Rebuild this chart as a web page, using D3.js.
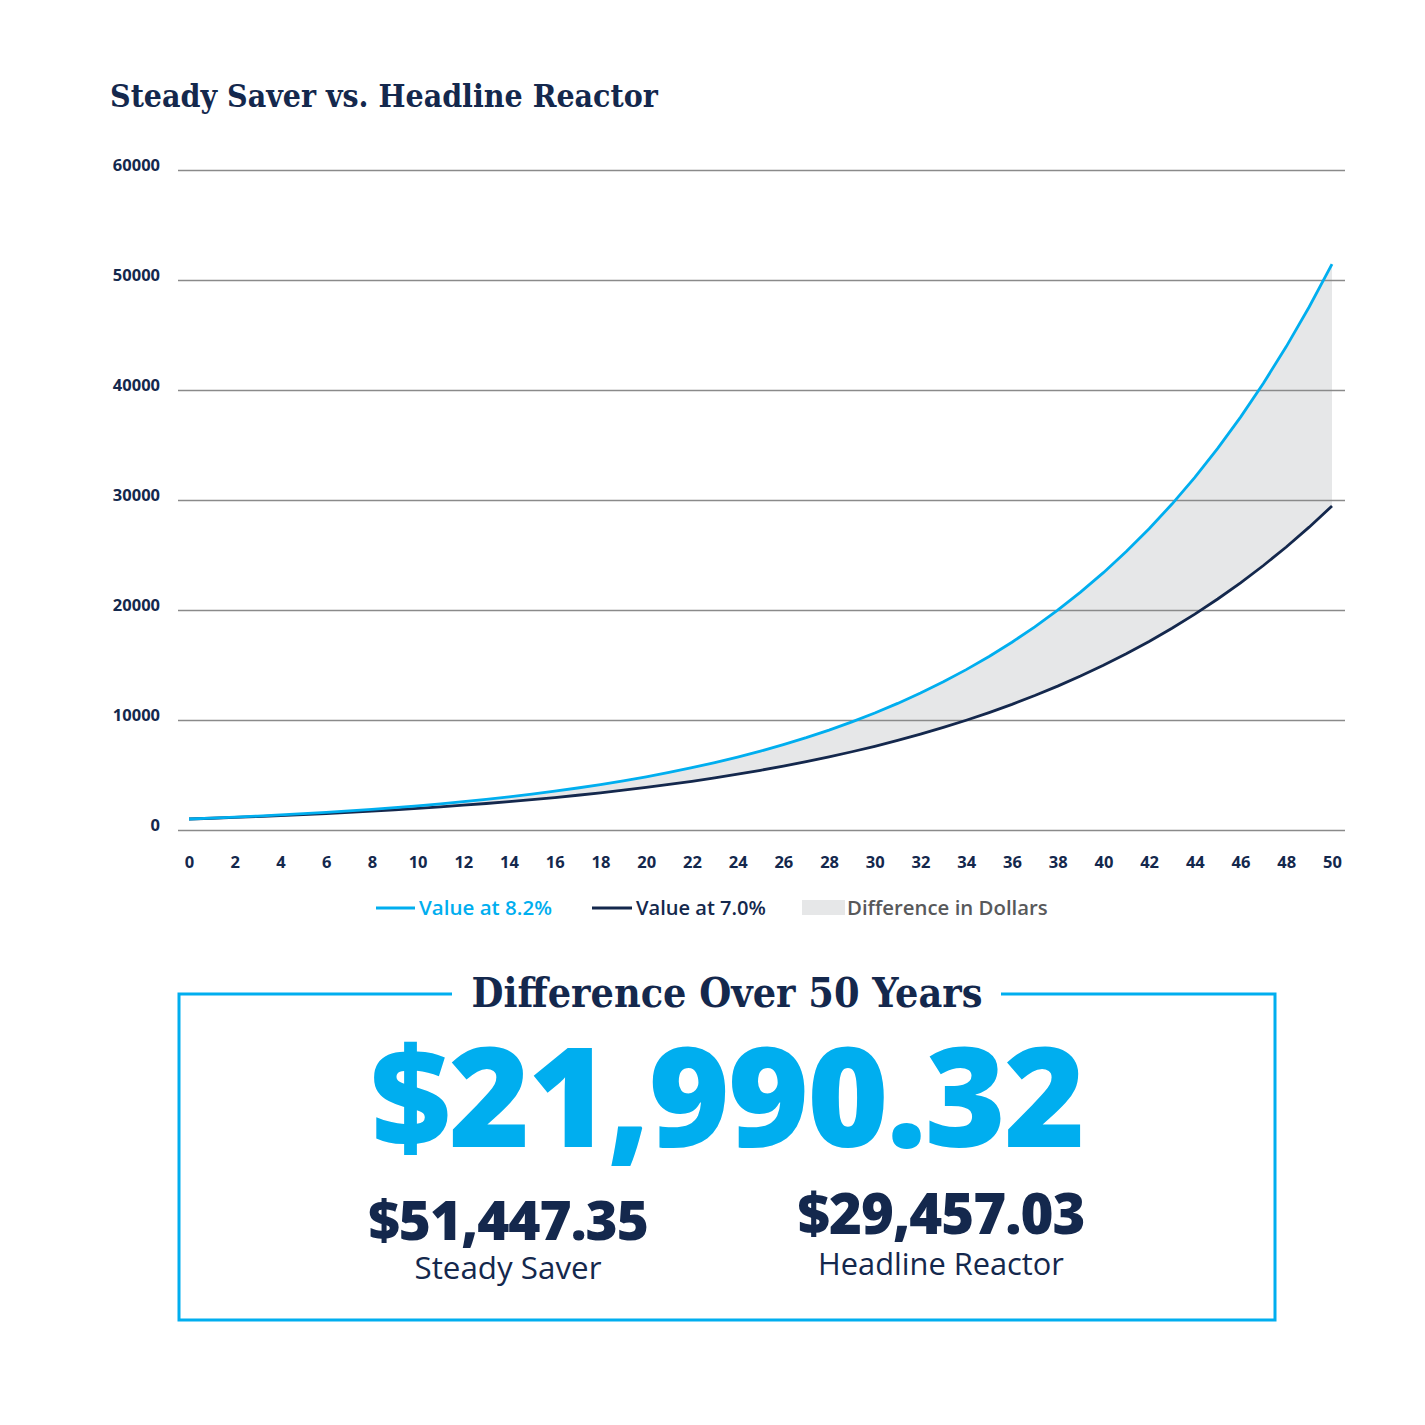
<!DOCTYPE html>
<html>
<head>
<meta charset="utf-8">
<script src="https://cdn.jsdelivr.net/npm/d3@7"></script>
<style>
  html, body { margin: 0; padding: 0; background: #ffffff; }
  svg { display: block; }
</style>
</head>
<body>
<svg id="chart" width="1425" height="1425"></svg>
<script>
// ---- Data ----
const years = d3.range(0, 51);
const value82 = [1000, 1082, 1170.72, 1266.72, 1370.59, 1482.98, 1604.58, 1736.16, 1878.52, 2032.56,
  2199.23, 2379.57, 2574.69, 2785.81, 3014.25, 3261.42, 3528.85, 3818.22, 4131.31, 4470.08,
  4836.62, 5233.22, 5662.35, 6126.66, 6629.05, 7172.63, 7760.79, 8397.17, 9085.74, 9830.77,
  10636.89, 11509.12, 12452.87, 13473.99, 14578.86, 15774.33, 17067.82, 18467.38, 19981.70, 21620.20,
  23393.06, 25311.29, 27386.81, 29632.53, 32062.40, 34691.52, 37536.22, 40614.19, 43944.55, 47547.99,
  51447.35];
const value70 = [1000, 1070, 1144.90, 1225.04, 1310.80, 1402.55, 1500.73, 1605.78, 1718.19, 1838.46,
  1967.15, 2104.85, 2252.19, 2409.85, 2578.53, 2759.03, 2952.16, 3158.82, 3379.93, 3616.53,
  3869.68, 4140.56, 4430.40, 4740.53, 5072.37, 5427.43, 5807.35, 6213.87, 6648.84, 7114.26,
  7612.26, 8145.11, 8715.27, 9325.34, 9978.11, 10676.58, 11423.94, 12223.62, 13079.27, 13994.82,
  14974.46, 16022.67, 17144.26, 18344.35, 19628.45, 21002.45, 22472.62, 24045.71, 25728.91, 27529.93,
  29457.03];
const yTicks = [0, 10000, 20000, 30000, 40000, 50000, 60000];
const xTicks = d3.range(0, 51, 2);
const legendItems = ["Value at 8.2%", "Value at 7.0%", "Difference in Dollars"];
const chartTitle = "Steady Saver vs. Headline Reactor";
const boxTitle = "Difference Over 50 Years";
const diffLabel = "$21,990.32";
const finalLabels = ["$51,447.35", "$29,457.03"];
const finalNames = ["Steady Saver", "Headline Reactor"];

// ---- Style ----
const NAVY = "#14284d";
const CYAN = "#00aeef";
const FILL = "#e6e7e8";
const GRID = "#8a8a8a";
const SANS = "'Open Sans', 'Inter', sans-serif";
const SLAB = "'DejaVu Serif', serif";
const SLAB_COND = "'DejaVu Serif Condensed', 'DejaVu Serif', serif";

const svg = d3.select("#chart");

function fitWidth(sel, target) {
  const node = sel.node();
  const fs = parseFloat(sel.attr("font-size"));
  const w = node.getComputedTextLength();
  if (w > 0) sel.attr("font-size", (fs * target / w).toFixed(2));
  return sel;
}

// Title
fitWidth(svg.append("text")
  .attr("x", 110).attr("y", 107)
  .attr("font-family", SLAB_COND).attr("font-weight", 700)
  .attr("font-size", 30).attr("fill", NAVY)
  .text(chartTitle), 548);

// Scales
const x = d3.scaleLinear().domain([0, 50]).range([189, 1332]);
const y = d3.scaleLinear().domain([0, 60000]).range([830, 170]);

// Area between lines
const area = d3.area()
  .x(d => x(d))
  .y0(d => y(value70[d]))
  .y1(d => y(value82[d]));
svg.append("path").datum(years).attr("d", area).attr("fill", FILL);

// Gridlines + y labels
const yAxis = d3.axisLeft(y).tickValues(yTicks).tickSize(0).tickPadding(0)
  .tickFormat(d3.format("d"));
const gy = svg.append("g").attr("transform", "translate(160,0)").call(yAxis);
gy.select(".domain").remove();
gy.selectAll("text")
  .attr("font-family", SANS).attr("font-weight", 700).attr("font-size", 16.5)
  .attr("fill", NAVY).attr("dy", 0)
  .attr("y", 0).attr("x", 0).attr("text-anchor", "end");
gy.selectAll(".tick").append("line")
  .attr("x1", 178 - 160).attr("x2", 1345 - 160)
  .attr("stroke", GRID).attr("stroke-width", 1.6);

// Lines
const line70 = d3.line().x(d => x(d)).y(d => y(value70[d]));
const line82 = d3.line().x(d => x(d)).y(d => y(value82[d]));
svg.append("path").datum(years).attr("d", line70)
  .attr("fill", "none").attr("stroke", NAVY).attr("stroke-width", 2.8);
svg.append("path").datum(years).attr("d", line82)
  .attr("fill", "none").attr("stroke", CYAN).attr("stroke-width", 2.8);

// X axis labels
const xAxis = d3.axisBottom(x).tickValues(xTicks).tickSize(0).tickPadding(0);
const gx = svg.append("g").attr("transform", "translate(0,868)").call(xAxis);
gx.select(".domain").remove();
gx.selectAll("text")
  .attr("font-family", SANS).attr("font-weight", 700).attr("font-size", 16.5)
  .attr("fill", NAVY).attr("y", 0).attr("dy", 0);

// Legend
const lg = svg.append("g");
lg.append("line").attr("x1", 376).attr("x2", 415).attr("y1", 908).attr("y2", 908)
  .attr("stroke", CYAN).attr("stroke-width", 2.8);
fitWidth(lg.append("text").attr("x", 419).attr("y", 915)
  .attr("font-family", SANS).attr("font-weight", 600).attr("font-size", 19)
  .attr("fill", CYAN).text(legendItems[0]), 133);
lg.append("line").attr("x1", 592).attr("x2", 632).attr("y1", 908).attr("y2", 908)
  .attr("stroke", NAVY).attr("stroke-width", 2.8);
fitWidth(lg.append("text").attr("x", 636).attr("y", 915)
  .attr("font-family", SANS).attr("font-weight", 600).attr("font-size", 19)
  .attr("fill", NAVY).text(legendItems[1]), 130);
lg.append("rect").attr("x", 802).attr("y", 900).attr("width", 43).attr("height", 15)
  .attr("fill", FILL);
fitWidth(lg.append("text").attr("x", 847).attr("y", 915)
  .attr("font-family", SANS).attr("font-weight", 600).attr("font-size", 19)
  .attr("fill", "#58595b").text(legendItems[2]), 201);

// Box
const boxL = 179, boxR = 1275, boxT = 994, boxB = 1320;
svg.append("path")
  .attr("d", `M452,${boxT} L${boxL},${boxT} L${boxL},${boxB} L${boxR},${boxB} L${boxR},${boxT} L1001,${boxT}`)
  .attr("fill", "none").attr("stroke", CYAN).attr("stroke-width", 3);

fitWidth(svg.append("text").attr("x", 727).attr("y", 1007)
  .attr("text-anchor", "middle")
  .attr("font-family", SLAB_COND).attr("font-weight", 700).attr("font-size", 40)
  .attr("fill", NAVY).text(boxTitle), 511);

fitWidth(svg.append("text").attr("x", 727).attr("y", 1147)
  .attr("text-anchor", "middle")
  .attr("font-family", SANS).attr("font-weight", 800).attr("font-size", 140)
  .attr("fill", CYAN).attr("letter-spacing", -2).text(diffLabel), 713);

const cx = [508, 941];
const numY = [1240, 1234];
const nameY = [1279, 1275];
const numW = [280, 287];
const nameW = [187, 246];
for (let i = 0; i < 2; i++) {
  fitWidth(svg.append("text").attr("x", cx[i]).attr("y", numY[i])
    .attr("text-anchor", "middle")
    .attr("font-family", SANS).attr("font-weight", 800).attr("font-size", 56)
    .attr("fill", NAVY).attr("letter-spacing", -1).text(finalLabels[i]), numW[i]);
  fitWidth(svg.append("text").attr("x", cx[i]).attr("y", nameY[i])
    .attr("text-anchor", "middle")
    .attr("font-family", SANS).attr("font-weight", 400).attr("font-size", 28)
    .attr("fill", NAVY).text(finalNames[i]), nameW[i]);
}
</script>
</body>
</html>
